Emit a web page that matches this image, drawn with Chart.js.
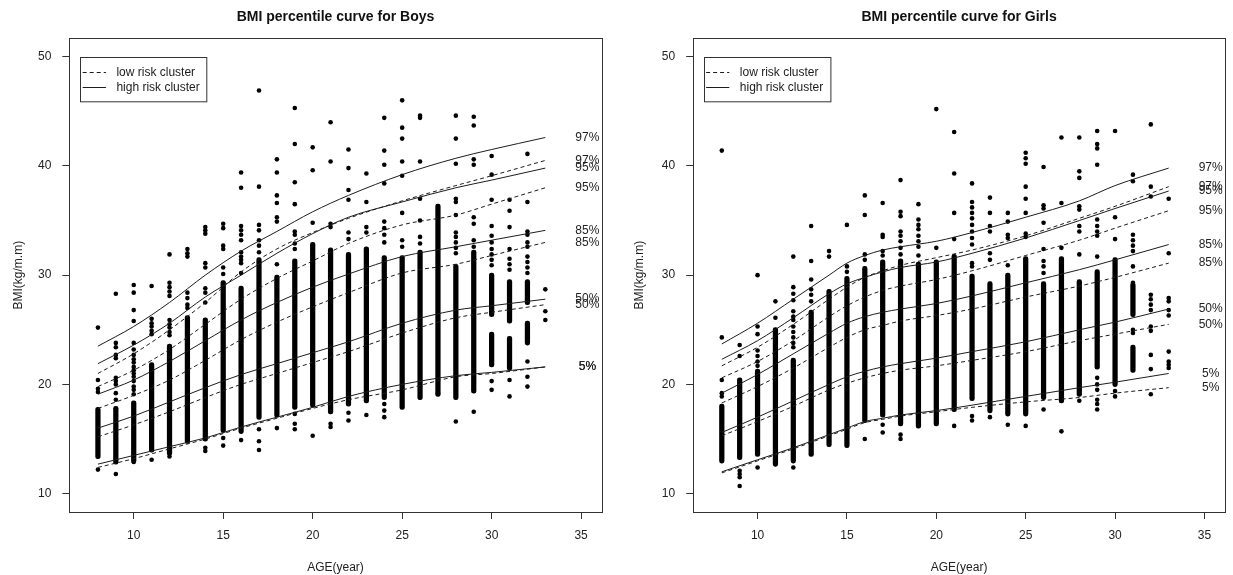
<!DOCTYPE html>
<html><head><meta charset="utf-8">
<script src="https://cdn.jsdelivr.net/npm/chart.js@4.4.1/dist/chart.umd.min.js"></script>
<style>
html,body{margin:0;padding:0;background:#fff;}
#wrap{position:relative;width:1233px;height:575px;overflow:hidden;}
canvas{position:absolute;top:0;}
</style></head>
<body><div id="wrap">
<canvas id="boys" width="616" height="575" style="left:0"></canvas>
<canvas id="girls" width="617" height="575" style="left:616px"></canvas>
</div>
<script>
// ---------- tick labels / text ----------
const xTicks = [10, 15, 20, 25, 30, 35];
const yTicks = [10, 20, 30, 40, 50];
const pctLabels = ['97%', '95%', '85%', '50%', '5%'];
const legendLabels = ['low risk cluster', 'high risk cluster'];
const titles = ['BMI percentile curve for Boys', 'BMI percentile curve for Girls'];
const xTitle = 'AGE(year)';
const yTitle = 'BMI(kg/m.m)';

// ---------- observations: ages ----------
const ages = [8,9,10,11,12,13,14,15,16,17,18,19,20,21,22,23,24,25,26,27,28,29,30,31,32,33];

// ---------- boys: dense runs of points [low, high] per age ----------
const boysDense = [
  [[13.2,17.9]],[[12.7,18.0]],[[12.8,18.5]],[[13.8,22.0]],[[13.5,23.7]],[[14.6,26.3]],
  [[14.8,26.1]],[[15.6,29.5]],[[15.5,29.0]],[[16.8,31.6]],[[17.0,30.0]],[[17.7,31.5]],
  [[17.9,33.0]],[[17.3,32.5]],[[18.0,32.1]],[[18.3,32.6]],[[18.6,31.8]],[[17.7,31.8]],
  [[18.6,32.3]],[[18.9,36.5]],[[18.6,31.0]],[[19.2,32.3]],[[26.2,30.2],[21.6,24.8]],
  [[25.6,29.6],[21.3,24.4]],[[27.3,29.6],[23.6,25.8]],[]
];
// ---------- boys: isolated points per age ----------
const boysPoints = [
  [25.2,20.4,19.6,19.3,12.2],
  [28.3,23.8,23.4,22.7,22.4,20.6,20.3,20.0,19.2,18.6,11.8],
  [29.1,28.4,26.8,25.8,23.8,23.2,22.7,22.3,22.0,21.6,21.3,21.0,20.7,20.3,19.8,19.5,19.1,12.9],
  [29.0,26.0,25.6,25.3,24.9,24.6,13.1],
  [31.9,29.3,28.9,28.5,28.1,25.9,25.5,25.2,24.8,24.5,13.4],
  [32.4,32.0,31.7,28.4,27.9,27.3,27.0],
  [34.4,34.1,33.8,31.1,30.7,28.8,28.4,27.5,14.2,13.9],
  [34.7,34.3,32.7,32.4,30.7,30.1,15.1,14.4],
  [39.4,38.0,34.5,34.1,33.7,33.2,32.1,31.7,31.4,31.1,30.2,14.9],
  [46.9,38.1,34.6,34.1,33.2,32.7,32.1,15.9,14.8,14.0],
  [40.6,39.4,37.3,36.6,35.3,34.9,31.0,16.0],
  [45.3,42.0,38.5,36.5,34.0,33.7,32.9,32.4,17.3,16.4,15.9],
  [41.7,39.6,34.8,15.3],
  [44.0,40.4,34.7,34.4,16.4,16.1],
  [41.5,39.8,37.8,36.9,33.9,33.3,17.4,16.7],
  [39.3,36.7,34.4,33.9,17.2],
  [44.4,41.4,40.1,38.4,34.9,34.3,33.7,33.0,18.2,17.6,17.0],
  [46.0,43.5,42.5,40.4,39.1,35.7,33.2,32.6],
  [44.6,44.4,40.4,37.0,35.0,33.5,32.9],
  [19.2],
  [44.6,42.5,40.2,37.0,36.7,35.5,33.9,33.5,33.0,32.5,32.0,16.6],
  [44.5,43.7,40.6,40.1,35.3,34.7,33.2,32.6,17.5],
  [40.9,39.2,36.9,34.5,33.6,33.0,32.4,31.9,31.4,30.9,20.3,19.5],
  [36.9,35.9,34.4,32.4,31.5,31.0,30.5,20.4,18.9],
  [41.1,36.7,34.0,33.7,33.0,32.6,31.7,31.2,30.7,30.2,22.1,20.7,19.8],
  [28.7,26.7,25.9]
];

// ---------- girls: dense runs per age ----------
const girlsDense = [
  [[12.8,18.2]],[[13.1,20.6]],[[13.4,21.4]],[[12.5,25.2]],[[12.8,22.4]],[[13.4,26.8]],
  [[14.3,28.7]],[[14.2,29.9]],[[16.5,30.8]],[[17.0,31.4]],[[16.2,31.5]],[[16.0,31.2]],
  [[16.2,31.4]],[[17.5,31.9]],[[18.5,30.1]],[[17.4,29.4]],[[17.1,30.2]],[[17.1,31.7]],
  [[18.6,29.4]],[[18.3,31.7]],[[18.9,29.6]],[[21.4,30.5]],[[19.8,31.6]],
  [[26.2,29.3],[21.1,23.6]],[],[]
];
// ---------- girls: isolated points per age ----------
const girlsPoints = [
  [41.4,24.3,20.4,19.2,18.9],
  [23.6,22.6,12.1,11.8,11.5,10.7],
  [30.0,25.3,24.6,23.1,22.6,22.1,21.7,12.4],
  [27.6,26.1],
  [31.7,28.9,28.3,27.7,26.7,26.2,25.9,25.3,24.8,24.3,23.8,23.4,12.4],
  [34.5,31.3,29.6,28.7,28.2,27.6],
  [32.2,31.7],
  [34.6,30.8,30.3],
  [37.3,35.5,31.9,31.4,15.0],
  [36.6,33.7,33.5,32.2,31.8,16.3,15.6],
  [38.7,35.8,35.4,34.0,33.6,33.1,32.5,31.9,15.4,15.0],
  [36.5,35.1,34.6,34.2,33.6,33.1,32.6,31.8],
  [45.2,32.5],
  [43.1,39.3,35.7,33.3,16.2],
  [38.4,36.7,36.2,35.7,35.2,34.6,34.0,33.4,32.8,31.1,30.8,17.1,16.7],
  [37.1,35.7,34.5,34.0,32.0,31.4,17.0],
  [35.7,34.9,33.7,33.4,30.9,16.3],
  [41.2,40.7,40.2,38.1,37.0,35.7,33.8,33.5,16.2],
  [39.9,36.4,36.1,34.8,32.4,31.3,30.8,30.2,17.7],
  [42.6,36.6,32.5,15.7],
  [42.6,39.5,38.9,36.3,36.0,34.5,34.0,31.9,18.5],
  [43.2,42.0,41.6,40.1,35.1,34.5,34.0,33.6,31.7,20.6,20.0,19.5,18.6,18.2,17.7],
  [43.2,35.3,33.3,19.4,18.9],
  [39.2,38.6,33.7,33.2,32.7,32.2,30.8,29.3,25.0,24.7],
  [43.8,38.1,37.2,28.2,27.8,27.3,26.8,25.3,24.9,22.7,21.4,19.1],
  [37.0,32.0,27.9,27.6,26.8,26.3,23.0,22.1,21.8,21.5]
];

// ---------- percentile curves: boys ----------
const boysCurveAges = [8,10,12,14,16,18,20,22,25,28,30,33];
const boysHigh97 = [23.5,25.3,27.5,30.0,32.2,34.0,35.8,37.3,39.2,40.7,41.5,42.6];
const boysLow97  = [21.0,22.8,25.0,27.5,30.3,32.4,33.9,35.2,36.8,38.2,39.1,40.5];
const boysHigh95 = [21.9,23.6,25.6,28.0,30.0,32.0,33.8,35.3,36.7,38.0,38.7,39.8];
const boysLow95  = [19.8,21.3,23.2,25.5,27.8,29.7,31.3,32.9,34.6,35.5,36.5,38.0];
const boysHigh85 = [19.1,20.4,22.1,24.0,25.9,27.5,28.9,30.1,31.7,32.6,33.2,34.1];
const boysLow85  = [17.8,19.0,20.4,22.2,24.1,25.7,27.1,28.4,30.2,31.0,31.8,33.0];
const boysHigh50 = [16.0,17.1,18.4,19.7,20.9,21.9,22.9,23.9,25.6,26.8,27.2,27.8];
const boysLow50  = [15.2,16.3,17.5,18.8,20.0,21.0,22.0,23.0,24.7,26.1,26.6,27.3];
const boysHigh5  = [12.7,13.5,14.3,15.1,16.1,17.0,17.9,18.9,20.0,20.8,21.1,21.6];
const boysLow5   = [12.4,13.2,14.1,15.0,16.0,16.9,17.8,18.6,19.5,20.7,21.0,21.6];

// ---------- percentile curves: girls ----------
const girlsCurveAges = [8,10,12,14,15,16,17,18,20,22,25,28,30,33];
const girlsHigh97 = [23.7,25.6,27.8,30.0,31.1,31.8,32.3,32.6,33.1,33.9,35.3,36.8,38.2,39.8];
const girlsLow97  = [21.7,23.4,25.5,27.8,28.9,29.8,30.4,30.9,31.6,32.3,33.6,35.2,36.3,38.1];
const girlsHigh95 = [22.3,24.0,26.1,28.3,29.2,29.8,30.3,30.7,31.2,32.0,33.4,35.0,36.1,37.7];
const girlsLow95  = [20.6,22.1,24.0,26.2,27.2,28.0,28.6,29.0,29.6,30.4,31.8,33.2,34.3,35.9];
const girlsHigh85 = [19.2,20.9,22.8,24.7,25.6,26.2,26.6,26.9,27.4,28.1,29.3,30.5,31.4,32.8];
const girlsLow85  = [18.3,19.8,21.5,23.4,24.3,25.0,25.4,25.8,26.3,26.9,28.0,29.0,29.8,31.1];
const girlsHigh50 = [15.6,17.0,18.5,20.0,20.7,21.2,21.6,21.9,22.4,23.0,23.9,25.0,25.7,26.9];
const girlsLow50  = [15.3,16.6,18.0,19.5,20.1,20.6,21.0,21.3,21.7,22.2,23.0,24.0,24.6,25.5];
const girlsHigh5  = [12.0,13.1,14.2,15.4,16.0,16.6,16.9,17.2,17.6,18.1,18.9,19.7,20.2,21.0];
const girlsLow5   = [11.9,13.0,14.1,15.3,15.9,16.5,16.8,17.1,17.5,17.9,18.4,18.8,19.2,19.7];

// ---------- drawing ----------
const INK = '#1c1c1c';
const FONT = "'Liberation Sans', Arial, sans-serif";
const LABEL_X = 35.35;

function buildCurves(hi, lo) {
  const out = [];
  for (let k = 0; k < pctLabels.length; k++) {
    out.push({values: hi[k], dashed: false, label: pctLabels[k]});
    out.push({values: lo[k], dashed: true, label: pctLabels[k]});
  }
  return out;
}

const framePlugin = {
  id: 'frame',
  afterDraw(chart, args, o) {
    const {ctx, chartArea: a} = chart;
    ctx.save();
    ctx.strokeStyle = '#333';
    ctx.lineWidth = 1;
    ctx.strokeRect(Math.round(a.left) + 0.5, Math.round(a.top) + 0.5,
      Math.round(a.right) - Math.round(a.left), Math.round(a.bottom) - Math.round(a.top));
    ctx.fillStyle = '#111';
    ctx.font = 'bold 14px ' + FONT;
    ctx.textAlign = 'center';
    ctx.textBaseline = 'middle';
    ctx.fillText(o.title, (a.left + a.right) / 2, 17);
    const lx = a.left + o.legendDx, ly = a.top + 18.4, lw = o.legendW, lh = 44.3;
    ctx.strokeStyle = '#333';
    ctx.strokeRect(Math.round(lx) + 0.5, Math.round(ly) + 0.5, lw, lh);
    ctx.font = '12px ' + FONT;
    ctx.textAlign = 'left';
    ctx.fillStyle = INK;
    const rows = [{y: ly + 15.6, dash: [4, 3]}, {y: ly + 30.6, dash: []}];
    rows.forEach((r, i) => {
      ctx.beginPath();
      ctx.setLineDash(r.dash);
      ctx.strokeStyle = INK;
      ctx.moveTo(lx + 2.3, Math.round(r.y) + 0.5);
      ctx.lineTo(lx + 25.5, Math.round(r.y) + 0.5);
      ctx.stroke();
      ctx.setLineDash([]);
      ctx.fillText(legendLabels[i], lx + 36, r.y);
    });
    ctx.restore();
  }
};

const pctPlugin = {
  id: 'pctText',
  afterDatasetsDraw(chart) {
    const {ctx, scales} = chart;
    ctx.save();
    ctx.font = '12px ' + FONT;
    ctx.fillStyle = '#222';
    ctx.textAlign = 'center';
    ctx.textBaseline = 'middle';
    chart.data.datasets.forEach(ds => {
      if (!ds.pct) return;
      const last = ds.data[ds.data.length - 1];
      ctx.fillText(ds.pct, scales.x.getPixelForValue(LABEL_X), scales.y.getPixelForValue(last.y));
    });
    ctx.restore();
  }
};

function makeChart(id, p) {
  const bars = [], pts = [];
  ages.forEach((a, i) => {
    p.dense[i].forEach(s => bars.push({x: a, y: s}));
    p.points[i].forEach(v => pts.push({x: a, y: v}));
  });
  const lineSets = p.curves.map(c => ({
    type: 'line',
    data: p.curveAges.map((a, i) => ({x: a, y: c.values[i]})),
    borderColor: INK, borderWidth: 1,
    borderDash: c.dashed ? [4, 3] : [],
    pointRadius: 0, fill: false,
    cubicInterpolationMode: 'monotone',
    pct: c.label, order: 0
  }));
  return new Chart(document.getElementById(id), {
    type: 'scatter',
    data: {
      datasets: [
        {type: 'bar', data: bars, backgroundColor: '#000', barThickness: 4.6,
         borderRadius: 2.3, borderSkipped: false, grouped: false, order: 2},
        {type: 'scatter', data: pts, backgroundColor: '#000', borderWidth: 0,
         pointRadius: 2.3, pointHoverRadius: 2.3, order: 1},
        ...lineSets
      ]
    },
    options: {
      responsive: false, animation: false, devicePixelRatio: 1,
      events: [],
      layout: {padding: {top: 38.3, right: p.padRight, left: 0, bottom: 0}},
      plugins: {legend: {display: false}, tooltip: {enabled: false}, title: {display: false},
                frame: {title: p.title, legendDx: p.legendDx, legendW: p.legendW}},
      scales: {
        x: {
          type: 'linear', min: 6.4, max: 36.15, offset: false,
          afterBuildTicks: s => { s.ticks = xTicks.map(v => ({value: v})); },
          afterFit: s => { s.height = 63; },
          grid: {offset: false, drawOnChartArea: false, drawTicks: true, tickLength: 7, color: '#333', lineWidth: 1},
          border: {display: false},
          ticks: {color: '#222', font: {family: FONT, size: 12}, padding: 9, maxRotation: 0,
                  callback: v => String(v)},
          title: {display: true, text: xTitle, color: '#222', font: {family: FONT, size: 12},
                  padding: {top: 2.8, bottom: 0}}
        },
        y: {
          type: 'linear', min: 8.32, max: 51.68,
          afterBuildTicks: s => { s.ticks = yTicks.map(v => ({value: v})); },
          afterFit: s => { s.width = p.yWidth; },
          grid: {offset: false, drawOnChartArea: false, drawTicks: true, tickLength: 7, color: '#333', lineWidth: 1},
          border: {display: false},
          ticks: {color: '#222', font: {family: FONT, size: 12}, padding: 11,
                  callback: v => String(v)},
          title: {display: true, text: yTitle, color: '#222', font: {family: FONT, size: 12},
                  padding: {top: p.yTitlePad, bottom: 0}}
        }
      }
    },
    plugins: [framePlugin, pctPlugin]
  });
}

makeChart('boys', {
  title: titles[0], dense: boysDense, points: boysPoints, curveAges: boysCurveAges,
  curves: buildCurves([boysHigh97, boysHigh95, boysHigh85, boysHigh50, boysHigh5],
                      [boysLow97, boysLow95, boysLow85, boysLow50, boysLow5]),
  yWidth: 69.3, padRight: 14.3, yTitlePad: 11.8, legendDx: 11.1, legendW: 126.3
});
makeChart('girls', {
  title: titles[1], dense: girlsDense, points: girlsPoints, curveAges: girlsCurveAges,
  curves: buildCurves([girlsHigh97, girlsHigh95, girlsHigh85, girlsHigh50, girlsHigh5],
                      [girlsLow97, girlsLow95, girlsLow85, girlsLow50, girlsLow5]),
  yWidth: 77.2, padRight: 8, yTitlePad: 16.8, legendDx: 10.6, legendW: 126.4
});
</script>
</body></html>
